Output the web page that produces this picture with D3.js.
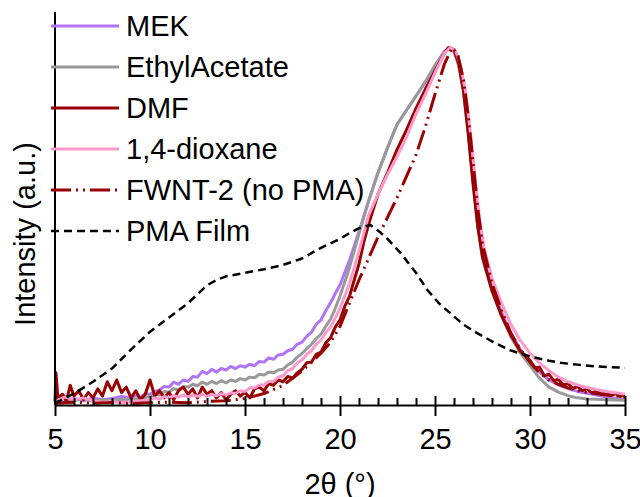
<!DOCTYPE html>
<html>
<head>
<meta charset="utf-8">
<script src="https://cdn.jsdelivr.net/npm/d3@7"></script>
<style>
  body { margin: 0; background: #fff; }
  text { font-family: "Liberation Sans", Arial, sans-serif; }
</style>
</head>
<body>
<script>
// series data: [2theta, intensity]
var mek = [[5,1.2],[5.5,0.8],[6,1.8],[6.5,1.2],[7,2],[7.5,1.5],[8,1.8],[8.5,2.4],[9,2],[9.25,2.6],[9.5,2.2],[9.75,3.2],[10,3],[10.25,3.8],[10.5,4.2],[10.75,5.2],[11,5],[11.25,6.4],[11.5,5.8],[11.75,7],[12,6.6],[12.25,8],[12.5,7.8],[12.75,9.4],[13,8.8],[13.25,10],[13.5,9.2],[13.75,10.2],[14,9.8],[14.25,10.8],[14.5,10.2],[14.75,11],[15,10.6],[15.25,11.4],[15.5,11],[15.75,12.2],[16,12],[16.25,13.2],[16.5,12.8],[16.75,14],[17,14.2],[17.25,15.2],[17.5,15.6],[17.75,17],[18,17.6],[18.25,19.2],[18.5,20.4],[18.75,22.6],[19,23.8],[19.25,26.4],[19.5,28.6],[19.75,31.2],[20,33.6],[20.5,40.5],[21,48.5],[21.5,57],[22,65],[22.5,72],[23,78.5],[23.5,82.5],[24,86.5],[24.5,90.5],[25,95],[25.5,99],[25.8,100],[26,99],[26.25,95],[26.5,88],[26.75,77],[27,64],[27.25,51],[27.5,42],[28,33],[28.5,26],[29,20],[29.5,15.5],[30,12],[30.5,9.2],[31,7],[31.5,5.6],[32,4.6],[32.5,3.8],[33,3.3],[33.5,2.8],[34,2.3],[34.5,1.8],[35,1.5]];

var ethylAcetate = [[5,1.5],[5.5,2.5],[6,1.2],[6.5,1.8],[7,1],[7.5,1.4],[8,1.2],[8.5,1.6],[9,1.4],[9.5,1.8],[10,2.4],[10.25,3],[10.5,2.8],[10.75,3.8],[11,3.6],[11.25,4.6],[11.5,4.2],[11.75,5.2],[12,5],[12.25,5.8],[12.5,5.4],[12.75,6.4],[13,5.8],[13.25,6.6],[13.5,6],[13.75,6.8],[14,6.2],[14.25,7],[14.5,6.6],[14.75,7.4],[15,7],[15.25,7.8],[15.5,7.6],[15.75,8.6],[16,8.4],[16.25,9.2],[16.5,9],[16.75,9.8],[17,10],[17.25,11.2],[17.5,12],[17.75,13.4],[18,14.4],[18.25,15.8],[18.5,17],[18.75,18.6],[19,19.8],[19.25,22],[19.5,24],[19.75,27],[20,30.5],[20.5,38.5],[21,48],[21.5,57],[22,65],[22.5,72],[23,78.5],[23.5,82.5],[24,86.5],[24.5,90.5],[25,95],[25.5,99],[25.8,100],[26,99],[26.25,95],[26.5,87.5],[26.75,76],[27,63],[27.25,50],[27.5,41],[28,32],[28.5,25],[29,19],[29.5,14.5],[30,11],[30.5,7.5],[31,5],[31.5,3.6],[32,2.6],[32.5,2],[33,1.7],[33.5,1.6],[34,1.5],[34.5,1.4],[35,1.3]];

var dmf = [[5,1],[5.05,9],[5.15,2],[5.4,3],[5.6,1],[5.8,5.5],[6,2.5],[6.25,4],[6.5,1.5],[6.75,3.5],[7,2],[7.25,4.5],[7.5,2.5],[7.75,6.5],[8,4],[8.25,7],[8.5,3.5],[8.75,5],[9,2],[9.25,4],[9.5,1.5],[9.75,3],[10,7],[10.25,2.5],[10.5,4],[10.75,2],[11,3.5],[11.25,1.5],[11.5,4],[11.75,5],[12,3],[12.25,4.5],[12.5,2],[12.75,5],[13,3],[13.25,4],[13.5,2],[13.75,3.5],[14,1.5],[14.25,3],[14.5,4],[14.75,2.5],[15,3.5],[15.25,2],[15.5,4.5],[15.75,5],[16,4],[16.25,6],[16.5,5.5],[16.75,7],[17,6.5],[17.25,8],[17.5,7.5],[17.75,9],[18,10],[18.25,11.8],[18.5,12],[18.75,14.2],[19,14.8],[19.25,17.4],[19.5,18.8],[19.75,21.8],[20,23.8],[20.25,27.6],[20.5,30.4],[20.75,35],[21,39.5],[21.25,45.5],[21.5,50.5],[22,59],[22.5,65],[23,71.5],[23.5,77],[24,83],[24.5,88.5],[25,93.5],[25.5,98.5],[25.7,100],[26,99.5],[26.25,95.5],[26.5,88],[26.75,76],[27,62],[27.25,50],[27.5,41.5],[28,32],[28.5,25],[29,19.5],[29.5,15],[30,12.5],[30.25,10.4],[30.5,10.6],[30.75,8.2],[31,8.6],[31.25,6.8],[31.5,7.2],[31.75,5.6],[32,6],[32.25,4.6],[32.5,5.2],[32.75,4],[33,4.6],[33.25,3.4],[33.5,4],[33.75,3],[34,3.6],[34.25,2.6],[34.5,3.2],[34.75,2.4],[35,2.8]];

var dioxane = [[5,1],[5.5,2.2],[6,1.5],[6.5,2],[7,1.2],[7.5,0.8],[8,1],[8.5,0.6],[9,1],[9.5,1.2],[10,1.4],[10.25,2],[10.5,1.6],[10.75,2.4],[11,2],[11.25,2.6],[11.5,2.2],[11.75,2.8],[12,2.2],[12.25,2.8],[12.5,2.4],[12.75,3],[13,2.4],[13.25,3],[13.5,2.6],[13.75,3.2],[14,2.8],[14.25,3.4],[14.5,3.2],[14.75,4],[15,3.8],[15.25,4.8],[15.5,4.8],[15.75,5.6],[16,5.6],[16.25,6.6],[16.5,6.6],[16.75,7.8],[17,8.2],[17.25,9.6],[17.5,10.2],[17.75,11.8],[18,12.6],[18.25,14.2],[18.5,15.2],[18.75,17],[19,18.2],[19.25,20.2],[19.5,21.8],[19.75,24.4],[20,27],[20.5,34],[21,43],[21.5,53],[22,59],[22.5,64.5],[23,69.5],[23.5,75],[24,81.5],[24.5,87],[25,93],[25.5,98.5],[25.8,100],[26.1,99],[26.35,95],[26.6,88],[26.85,77],[27.1,64],[27.35,52],[27.6,43.5],[28,35.5],[28.5,28.5],[29,22.5],[29.5,18],[30,14.5],[30.5,11.8],[31,9.6],[31.5,7.8],[32,6.5],[32.5,5.6],[33,4.9],[33.5,4.3],[34,3.8],[34.5,3.4],[35,3]];

var fwnt2 = [[5,0.5],[6,0.8],[7,0.5],[8,0.7],[9,0.4],[10,0.6],[11,0.8],[12,0.6],[13,1],[14,1.2],[15,1.8],[16,3.2],[17,5.5],[17.5,7.5],[18,9.5],[18.5,12],[19,14.5],[19.5,17.5],[20,22],[20.5,28.5],[21,35],[21.5,41],[22,47],[22.5,52.5],[23,58],[23.5,64],[24,70],[24.5,78],[25,87],[25.5,95.5],[25.9,100],[26.2,98],[26.5,91],[26.75,81],[27,68],[27.25,55],[27.5,45],[28,34],[28.5,26.5],[29,20],[29.5,15.5],[30,12],[30.5,9],[31,7],[31.5,5.8],[32,4.8],[32.5,4],[33,3.5],[34,2.8],[35,2.3]];

var pmaFilm = [[5,0.5],[6,3.2],[7,6.5],[8,10.2],[9,15.5],[10,20.5],[11,24.5],[12,28.5],[12.5,31],[13,33.5],[13.5,35],[14,36],[15,37],[16,38],[17,39.2],[18,41],[19,44],[20,46.5],[20.5,48.1],[21,49.5],[21.6,50.4],[22.1,48.4],[22.5,46.5],[23.2,42.5],[24,37],[24.6,32.2],[25.2,28.5],[25.8,25.7],[26.5,22.5],[27.2,20.2],[28,17.8],[28.9,15.4],[30,13.6],[31,12.4],[31.6,11.8],[32.5,11.3],[33.5,10.8],[35,10.4]];

var seriesNames = ["MEK", "EthylAcetate", "DMF", "1,4-dioxane", "FWNT-2 (no PMA)", "PMA Film"];
var seriesData = [mek, ethylAcetate, dmf, dioxane, fwnt2, pmaFilm];
var seriesColors = ["#b274f7", "#999999", "#990000", "#ff99cc", "#990000", "#000000"];
var seriesDash = [null, null, null, null, "20,5,2,5,2,5", "8,5"];
var xTicks = [5, 10, 15, 20, 25, 30, 35];

var width = 640, height = 497;
var margin = {top: 12, left: 55, right: 15, bottom: 92};

var svg = d3.select("body").append("svg")
    .attr("width", width)
    .attr("height", height);

var x = d3.scaleLinear().domain([5, 35]).range([margin.left, width - margin.right]);
var y = d3.scaleLinear().domain([0, 110]).range([height - margin.bottom, margin.top]);

var line = d3.line()
    .x(function(d) { return x(d[0]); })
    .y(function(d) { return y(d[1]); });

// curves
seriesData.forEach(function(s, i) {
  svg.append("path")
      .datum(s)
      .attr("d", line)
      .attr("fill", "none")
      .attr("stroke", seriesColors[i])
      .attr("stroke-width", i == 5 ? 2.5 : 3)
      .attr("stroke-linejoin", "round")
      .attr("stroke-dasharray", seriesDash[i]);
});

// minor ticks (inside)
var minor = d3.range(5, 36).filter(function(v) { return v % 5 != 0; });
svg.append("g")
    .attr("transform", "translate(0," + y(0) + ")")
    .call(d3.axisBottom(x).tickValues(minor).tickSize(-7).tickFormat(""))
    .call(function(g) {
      g.select(".domain").remove();
      g.selectAll(".tick line").attr("stroke-width", 2);
    });

// major ticks + labels
svg.append("g")
    .attr("transform", "translate(0," + y(0) + ")")
    .call(d3.axisBottom(x).tickValues(xTicks).tickSize(11).tickPadding(12).tickSizeOuter(0))
    .call(function(g) {
      g.select(".domain").attr("stroke-width", 2);
      g.selectAll(".tick line").attr("y1", -9).attr("stroke-width", 2);
      g.selectAll(".tick text")
          .attr("font-size", 29)
          .attr("font-family", "Liberation Sans, Arial, sans-serif")
          .attr("fill", "#000");
    });

// y axis (no ticks)
svg.append("line")
    .attr("x1", x(5)).attr("x2", x(5))
    .attr("y1", margin.top).attr("y2", y(0))
    .attr("stroke", "#000")
    .attr("stroke-width", 2);

// axis titles
svg.append("text")
    .attr("x", (x(5) + x(35)) / 2)
    .attr("y", 494)
    .attr("text-anchor", "middle")
    .attr("font-size", 29)
    .text("2θ (°)");

svg.append("text")
    .attr("transform", "translate(35," + 234 + ") rotate(-90)")
    .attr("text-anchor", "middle")
    .attr("font-size", 29)
    .text("Intensity (a.u.)");

// legend
var legend = svg.append("g");
seriesNames.forEach(function(name, i) {
  var ly = 26 + i * 41;
  legend.append("line")
      .attr("x1", 51).attr("x2", 119)
      .attr("y1", ly).attr("y2", ly)
      .attr("stroke", seriesColors[i])
      .attr("stroke-width", i == 5 ? 2.5 : 3)
      .attr("stroke-dasharray", seriesDash[i]);
  legend.append("text")
      .attr("x", 126)
      .attr("y", ly + 10)
      .attr("font-size", 29)
      .text(name);
});
</script>
</body>
</html>
